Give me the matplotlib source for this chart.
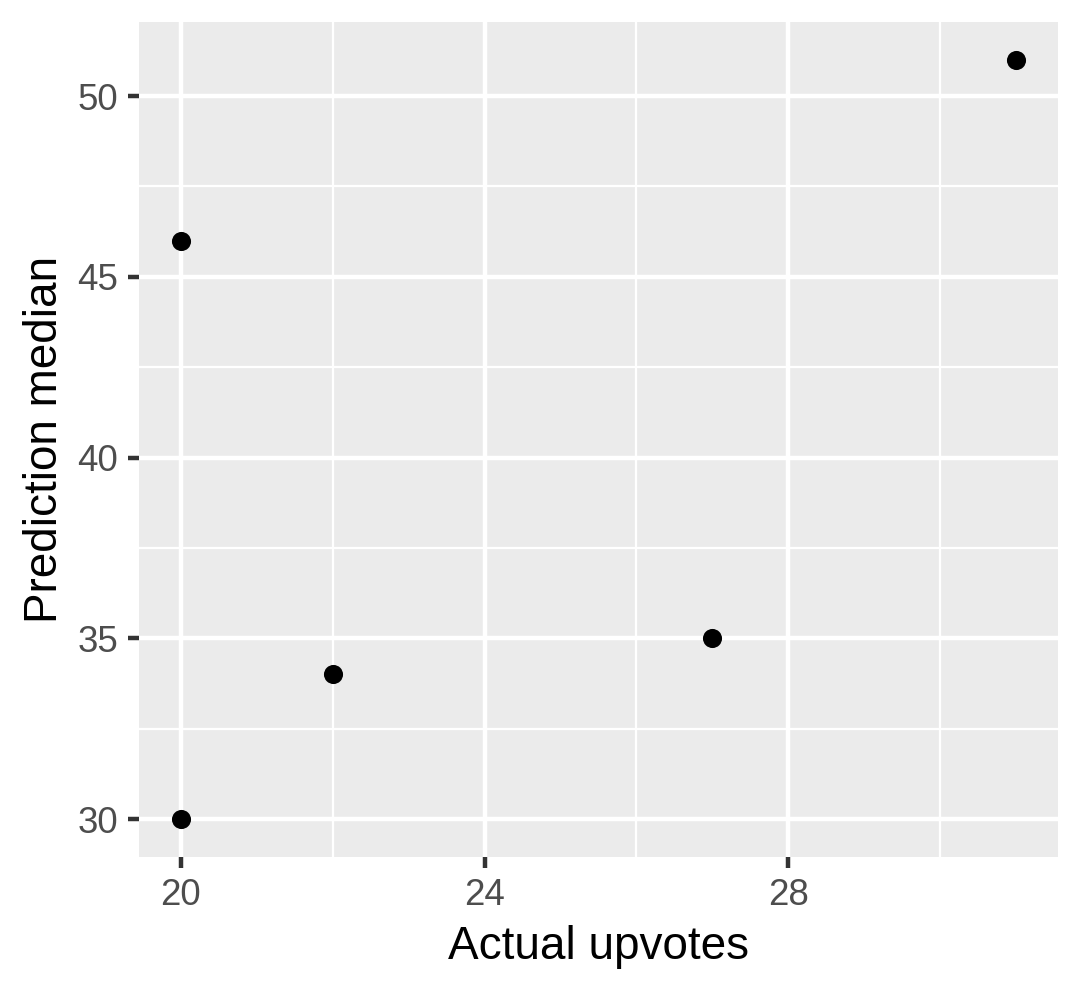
import matplotlib
matplotlib.use("Agg")
import matplotlib.pyplot as plt
from matplotlib.ticker import FixedLocator

plt.rcParams['font.family'] = ['Liberation Sans', 'DejaVu Sans']

# data
actual_upvotes = [20, 20, 22, 27, 31]
prediction_median = [46, 30, 34, 35, 51]

x_major = [20, 24, 28]
x_minor = [22, 26, 30]
y_major = [30, 35, 40, 45, 50]
y_minor = [32.5, 37.5, 42.5, 47.5]

fig = plt.figure(figsize=(1081 / 300, 993 / 300), dpi=300)
ax = fig.add_axes([139 / 1081, 1 - 857 / 993, (1058 - 139) / 1081, (857 - 22) / 993])

ax.set_facecolor("#EBEBEB")
for s in ax.spines.values():
    s.set_visible(False)

ax.xaxis.set_major_locator(FixedLocator(x_major))
ax.xaxis.set_minor_locator(FixedLocator(x_minor))
ax.yaxis.set_major_locator(FixedLocator(y_major))
ax.yaxis.set_minor_locator(FixedLocator(y_minor))

ax.grid(which="major", color="white", linewidth=1.07)
ax.grid(which="minor", color="white", linewidth=0.53)
ax.set_axisbelow(True)

ax.tick_params(which="major", length=2.75, width=1.07, color="#333333",
               labelsize=8.8, labelcolor="#4D4D4D", pad=2.2)
ax.tick_params(which="minor", length=0)

ax.scatter(actual_upvotes, prediction_median, s=21, color="black", zorder=3, linewidths=0)

xr = max(actual_upvotes) - min(actual_upvotes)
yr = max(prediction_median) - min(prediction_median)
ax.set_xlim(min(actual_upvotes) - 0.05 * xr, max(actual_upvotes) + 0.05 * xr)
ax.set_ylim(min(prediction_median) - 0.05 * yr, max(prediction_median) + 0.05 * yr)

ax.set_xlabel("Actual upvotes", fontsize=11, color="black", labelpad=3)
ax.set_ylabel("Prediction median", fontsize=11, color="black", labelpad=2.6)

fig.savefig("out.png", dpi=300)
